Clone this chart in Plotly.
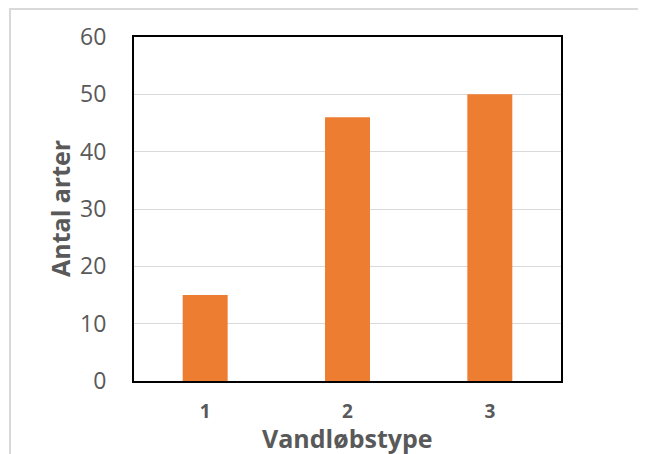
import plotly.graph_objects as go

categories = ["1", "2", "3"]
values = [15, 46, 50]
y_ticks = [0, 10, 20, 30, 40, 50, 60]

fig = go.Figure(go.Bar(x=categories, y=values, marker_color="#ED7D31",
                       marker_line_width=0, width=0.316))

fig.update_layout(
    width=638, height=446,
    margin=dict(l=126, r=85, t=29, b=73),
    paper_bgcolor="white", plot_bgcolor="white",
    showlegend=False,
    font=dict(family="Open Sans, Liberation Sans, sans-serif", color="#595959"),
)
fig.update_xaxes(
    type="category",
    tickfont=dict(size=19, color="#595959", family="Open Sans"),
    ticklabelstandoff=12,
    showgrid=False, showline=True, linecolor="black", linewidth=2, mirror=True,
    tickprefix="<b>", ticksuffix="</b>",
)
fig.update_yaxes(
    range=[0, 60], tickvals=y_ticks,
    tickfont=dict(size=23, color="#595959"),
    ticklabelstandoff=21,
    showgrid=True, gridcolor="#d9d9d9", gridwidth=1,
    showline=True, linecolor="black", linewidth=2, mirror=True,
    zeroline=False,
)
fig.add_annotation(text="<b>Vandløbstype</b>", xref="paper", yref="paper",
                   x=0.5, y=-57/344, xanchor="center", yanchor="middle",
                   showarrow=False, font=dict(size=25, color="#595959"))
fig.add_annotation(text="<b>Antal arter</b>", xref="paper", yref="paper",
                   x=-74/427, y=0.5, xanchor="center", yanchor="middle", textangle=-90,
                   showarrow=False, font=dict(size=25, color="#595959"))
fig.add_shape(type="rect", xref="paper", yref="paper",
              x0=-124/427, x1=1 + 100/427, y0=-90/344, y1=1 + 28/344,
              line=dict(color="#d9d9d9", width=2), fillcolor="rgba(0,0,0,0)", layer="below")
fig.write_html("out.html")
